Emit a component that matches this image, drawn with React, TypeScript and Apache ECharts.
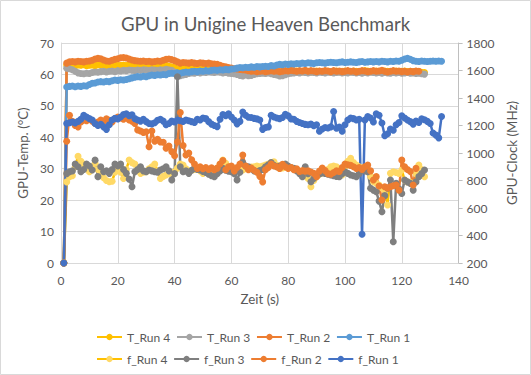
import React, { useEffect, useRef } from "react";
import * as echarts from "echarts";

// Time axis: every series starts at second 1 and has one value per second.
const startSecond = 1;

const xTicks = { min: 0, max: 140, interval: 20 };
const tempTicks = { min: 0, max: 70, interval: 10 };
const clockTicks = { min: 200, max: 1800, interval: 200 };

// GPU temperature (°C)
const tRun1 = [
  0, 56.0, 56.2, 56.3, 56.1, 56.3, 56.2, 56.4, 56.3, 56.8,
  57.2, 57.3, 57.6, 57.7, 57.6, 57.8, 57.7, 58.0, 58.2, 58.1,
  58.3, 58.2, 58.4, 58.6, 58.9, 59.1, 59.3, 59.2, 59.4, 59.3,
  59.6, 59.8, 59.7, 59.9, 59.8, 60.0, 59.9, 60.3, 60.4, 60.3,
  60.5, 60.4, 60.6, 60.8, 60.7, 60.9, 61.0, 60.9, 61.1, 61.0,
  61.2, 61.1, 61.3, 61.4, 61.3, 61.5, 61.4, 61.6, 61.5, 61.7,
  61.8, 62.0, 62.2, 62.1, 62.3, 62.2, 62.4, 62.3, 62.5, 62.4,
  62.5, 62.6, 62.5, 62.8, 62.7, 63.0, 63.2, 63.1, 63.3, 63.2,
  63.4, 63.3, 63.5, 63.4, 63.6, 63.5, 63.7, 63.6, 63.5, 63.7,
  63.8, 63.7, 63.6, 63.8, 63.9, 63.8, 63.7, 63.9, 64.0, 63.8,
  63.9, 64.0, 63.9, 63.8, 64.0, 64.1, 63.9, 64.0, 64.1, 64.0,
  64.1, 64.0, 64.2, 64.1, 64.0, 64.2, 64.1, 64.3, 64.2, 64.5,
  64.9, 65.1, 64.8, 64.4, 64.2, 64.1, 64.3, 64.2, 64.1, 64.2,
  64.3, 64.2, 64.3, 64.2,
];
const tRun2 = [
  0, 63.6, 64.0, 64.1, 64.0, 64.2, 64.1, 64.0, 64.2, 64.3,
  64.5, 64.9, 65.1, 65.0, 64.6, 64.3, 64.2, 64.5, 64.8, 65.0,
  65.3, 65.4, 65.2, 64.9, 64.6, 64.4, 64.3, 64.2, 64.3, 64.1,
  64.2, 64.0, 64.1, 64.3, 64.2, 64.5, 64.8, 64.9, 64.7, 64.4,
  64.0, 63.6, 63.8, 63.7, 63.6, 63.8, 63.6, 63.5, 63.7, 63.6,
  63.5, 63.6, 63.4, 63.3, 63.2, 62.9, 62.6, 62.4, 62.2, 62.0,
  61.8, 61.7, 61.6, 61.5, 61.4, 61.2, 61.0, 61.1, 60.9, 61.0,
  61.1, 60.9, 61.0, 61.2, 61.0, 61.1, 60.9, 61.0, 61.2, 61.1,
  61.3, 61.2, 61.0, 61.2, 61.1, 61.3, 61.0, 61.2, 61.1, 60.9,
  61.1, 61.0, 61.2, 61.1, 60.9, 61.2, 61.0, 61.1, 60.9, 61.0,
  61.2, 61.0, 61.1, 60.8, 61.0, 61.2, 61.1, 60.9, 61.0, 61.2,
  61.0, 61.1, 61.3, 61.0, 60.8, 61.0, 61.2, 61.0, 61.1, 60.9,
  61.0, 60.8, 61.0, 60.9, 61.1, 61.0,
];
const tRun3 = [
  0, 62.0, 61.8, 61.5, 61.0, 60.5, 60.3, 60.2, 60.4, 60.3,
  60.6, 60.8, 60.7, 60.9, 61.0, 60.8, 61.0, 61.1, 60.9, 61.2,
  61.1, 61.3, 61.2, 61.4, 61.3, 61.2, 61.4, 61.3, 61.5, 61.4,
  61.3, 61.5, 61.4, 61.3, 61.5, 61.4, 61.6, 61.5, 61.3, 60.8,
  60.2, 59.6, 59.8, 60.0, 60.3, 60.5, 60.4, 60.6, 60.5, 60.7,
  60.6, 60.8, 60.7, 60.6, 60.8, 60.7, 60.5, 60.6, 60.4, 60.3,
  60.2, 60.0, 59.7, 59.5, 59.8, 59.6, 59.7, 60.0, 60.2, 60.3,
  60.4, 60.3, 60.5, 60.2, 60.0, 59.8, 59.5, 59.6, 59.9, 60.2,
  60.4, 60.5, 60.6, 60.5, 60.7, 60.6, 60.5, 60.7, 60.6, 60.5,
  60.7, 60.6, 60.5, 60.7, 60.6, 60.5, 60.6, 60.7, 60.5, 60.6,
  60.5, 60.7, 60.6, 60.5, 60.6, 60.4, 60.6, 60.5, 60.7, 60.6,
  60.5, 60.6, 60.4, 60.6, 60.5, 60.4, 60.6, 60.5, 60.6, 60.4,
  60.5, 60.6, 60.4, 60.5, 60.3, 60.4, 60.2, 60.1,
];
const tRun4 = [
  0, 63.0, 63.2, 63.0, 62.8, 63.0, 62.9, 63.1, 62.8, 62.9,
  63.0, 62.8, 63.1, 62.9, 63.0, 62.8, 62.9, 63.1, 63.0, 62.8,
  62.9, 63.0, 62.8, 63.1, 62.9, 62.7, 62.8, 63.0, 62.9, 62.8,
  62.7, 62.9, 62.8, 62.6, 62.8, 62.7, 62.9, 62.6, 62.4, 62.2,
  61.8, 61.6, 61.7, 61.9, 61.8, 62.0, 61.9, 61.8, 62.0, 61.9,
  61.8, 61.7, 61.9, 61.8, 61.6, 61.7, 61.5, 61.6, 61.4, 61.5,
  61.3, 61.2, 60.8, 60.5, 60.7, 60.9, 61.0, 60.8, 61.0, 61.1,
  61.0, 60.9, 61.1, 61.0, 60.8, 60.6, 60.7, 60.9, 61.0, 61.1,
  61.0, 60.9, 61.1, 61.0, 60.9, 61.1, 61.0, 60.8, 61.0, 61.1,
  61.0, 60.9, 61.1, 61.0, 60.8, 61.0, 61.1, 60.9, 61.0, 61.1,
  61.0, 60.9, 61.1, 61.0, 60.8, 61.0, 61.2, 61.1, 60.9, 61.0,
  61.1, 61.0, 60.9, 61.1, 61.0, 60.8, 61.0, 61.1, 60.9, 61.0,
  61.1, 60.9, 61.0, 60.8, 61.0, 60.9, 60.7, 60.6,
];

// GPU clock (MHz)
const fRun1 = [
  200, 1215, 1220, 1225, 1218, 1230, 1245, 1275, 1262, 1250,
  1240, 1215, 1200, 1208, 1190, 1172, 1205, 1240, 1252, 1248,
  1262, 1280, 1285, 1272, 1278, 1250, 1240, 1232, 1245, 1228,
  1215, 1212, 1220, 1238, 1245, 1232, 1205, 1215, 1232, 1225,
  1240, 1235, 1230, 1240, 1235, 1228, 1222, 1245, 1240, 1255,
  1250, 1228, 1210, 1200, 1192, 1245, 1280, 1272, 1285, 1262,
  1240, 1212, 1230, 1298, 1275, 1260, 1258, 1252, 1248, 1240,
  1172, 1185, 1190, 1275, 1262, 1255, 1250, 1258, 1282, 1270,
  1248, 1245, 1230, 1222, 1215, 1208, 1205, 1210, 1198, 1205,
  1158, 1175, 1185, 1182, 1190, 1302, 1180, 1188, 1158, 1205,
  1240, 1255, 1250, 1240, 1245, 409, 1240, 1265, 1255, 1225,
  1285, 1275, 1218, 1125, 1140, 1175, 1165, 1205, 1222, 1270,
  1255, 1240, 1228, 1210, 1232, 1222, 1248, 1242, 1230, 1215,
  1145, 1130, 1110, 1265,
];
const fRun2 = [
  200, 1085, 1275, 1230, 1200, 1190, 1225, 1240, 1235, 1245,
  1232, 1215, 1225, 1240, 1230, 1248, 1238, 1225, 1250, 1262,
  1255, 1245, 1258, 1240, 1232, 1215, 1168, 1160, 1150, 1155,
  1045, 1160, 1085, 1100, 1080, 1078, 1034, 1050, 1010, 980,
  1080, 1295, 1055, 985, 1000, 950, 920, 888, 900, 885,
  895, 880, 892, 878, 890, 920, 946, 878, 900, 905,
  870, 895, 920, 985, 905, 878, 890, 875, 860, 830,
  790, 878, 895, 920, 905, 900, 888, 918, 900, 888,
  895, 878, 885, 866, 872, 868, 870, 862, 852, 828,
  868, 890, 872, 850, 845, 858, 870, 866, 895, 920,
  915, 910, 900, 888, 895, 880, 900, 912, 870, 803,
  828, 760, 658, 755, 745, 755, 762, 767, 730, 948,
  900, 880, 866, 767, 888,
];
const fRun3 = [
  200, 850, 864, 870, 919, 900, 864, 880, 919, 905,
  876, 948, 828, 900, 864, 870, 852, 880, 919, 905,
  919, 880, 852, 810, 755, 864, 880, 900, 870, 864,
  876, 870, 864, 860, 876, 885, 900, 870, 803, 850,
  1555, 900, 864, 870, 852, 875, 888, 880, 876, 865,
  858, 845, 835, 828, 850, 870, 888, 875, 868, 864,
  850, 803, 860, 931, 905, 900, 885, 870, 864, 872,
  880, 900, 915, 931, 910, 900, 905, 912, 919, 905,
  895, 888, 870, 850, 828, 900, 850, 791, 815, 840,
  848, 855, 852, 846, 840, 835, 830, 828, 850, 864,
  852, 840, 835, 828, 850, 876, 870, 864, 743, 730,
  718, 650, 573, 690, 743, 803, 355, 779, 740, 706,
  803, 790, 779, 730, 790, 828, 850, 876,
];
const fRun4 = [
  200, 790, 828, 835, 900, 976, 940, 919, 885, 864,
  895, 925, 880, 840, 820, 800, 791, 795, 860, 900,
  860, 815, 880, 949, 930, 919, 880, 852, 860, 864,
  885, 900, 919, 870, 815, 830, 840, 850, 860, 864,
  890, 919, 912, 885, 864, 875, 880, 888, 870, 852,
  858, 862, 860, 864, 890, 920, 949, 925, 900, 890,
  888, 880, 878, 876, 885, 892, 898, 900, 905, 900,
  905, 912, 920, 930, 937, 910, 888, 892, 896, 900,
  895, 885, 875, 864, 850, 835, 815, 755, 800, 828,
  845, 855, 864, 880, 900, 905, 900, 870, 840, 900,
  940, 961, 930, 912, 900, 890, 882, 876, 830, 791,
  780, 767, 745, 730, 622, 852, 864, 858, 852, 876,
  803, 790, 785, 779, 850, 912, 880, 828,
];

const seriesNames = ["T_Run 4", "T_Run 3", "T_Run 2", "T_Run 1", "f_Run 4", "f_Run 3", "f_Run 2", "f_Run 1"];

const FONT = "Lato, 'Open Sans', sans-serif";
const TEXT = "#595959";
const GRID = "#D9D9D9";

function toPoints(values: number[]) {
  return values.map((v, i) => [startSecond + i, v]);
}

export default function App() {
  const ref = useRef<HTMLDivElement>(null);
  useEffect(() => {
    const chart = echarts.init(ref.current!, null, { renderer: "svg" });
    const mk = (name: string, values: number[], yAxisIndex: number, line: string, marker: string) => ({
      name,
      type: "line",
      yAxisIndex,
      data: toPoints(values),
      symbol: "circle",
      symbolSize: 7,
      showSymbol: true,
      showAllSymbol: true,
      lineStyle: { color: line, width: 2.5 },
      itemStyle: { color: marker, borderColor: marker, borderWidth: 0 },
      emphasis: { disabled: true },
    });
    const legendCommon = {
      orient: "horizontal",
      left: 96,
      padding: 0,
      itemWidth: 25,
      itemHeight: 8,
      itemGap: 5.7,
      textStyle: { color: TEXT, fontFamily: FONT, fontSize: 12, width: 46, overflow: "none" },
      selectedMode: false,
    };
    chart.setOption({
      animation: false,
      backgroundColor: "#ffffff",
      title: {
        text: "GPU in Unigine Heaven Benchmark",
        left: "center",
        top: 9,
        textStyle: { color: TEXT, fontFamily: FONT, fontSize: 18.6, fontWeight: "normal" },
      },
      legend: [
        { ...legendCommon, top: 331, data: seriesNames.slice(0, 4) },
        { ...legendCommon, top: 353, data: seriesNames.slice(4) },
      ],
      grid: { left: 61, right: 72.4, top: 43, bottom: 112, containLabel: false },
      xAxis: {
        type: "value",
        ...xTicks,
        name: "Zeit (s)",
        nameLocation: "middle",
        nameGap: 29,
        nameTextStyle: { color: TEXT, fontFamily: FONT, fontSize: 13.3 },
        axisLine: { show: true, lineStyle: { color: GRID } },
        axisTick: { show: false },
        axisLabel: { color: TEXT, fontFamily: FONT, fontSize: 12, margin: 11 },
        splitLine: { show: true, lineStyle: { color: GRID } },
      },
      yAxis: [
        {
          type: "value",
          ...tempTicks,
          name: "GPU-Temp. (°C)",
          nameLocation: "middle",
          nameGap: 31,
          nameTextStyle: { color: TEXT, fontFamily: FONT, fontSize: 13.3 },
          axisLine: { show: true, lineStyle: { color: GRID } },
          axisTick: { show: false },
          axisLabel: { color: TEXT, fontFamily: FONT, fontSize: 12, margin: 7 },
          splitLine: { show: true, lineStyle: { color: GRID } },
        },
        {
          type: "value",
          position: "right",
          ...clockTicks,
          name: "GPU-Clock (MHz)",
          nameLocation: "middle",
          nameGap: 37,
          nameTextStyle: { color: TEXT, fontFamily: FONT, fontSize: 13.3 },
          axisLine: { show: true, lineStyle: { color: "#BFBFBF" } },
          axisTick: { show: true, length: 4, inside: false, lineStyle: { color: "#BFBFBF" } },
          axisLabel: { color: TEXT, fontFamily: FONT, fontSize: 12, margin: 8, formatter: (v: number) => String(v) },
          splitLine: { show: false },
        },
      ],
      graphic: [
        {
          type: "rect",
          shape: { x: 0.5, y: 0.5, width: 530, height: 374 },
          style: { fill: "none", stroke: GRID, lineWidth: 1 },
          silent: true,
        },
      ],
      series: [
        mk("T_Run 4", tRun4, 0, "#FFC000", "#FFC000"),
        mk("T_Run 3", tRun3, 0, "#A5A5A5", "#A5A5A5"),
        mk("T_Run 2", tRun2, 0, "#ED7D31", "#ED7D31"),
        mk("T_Run 1", tRun1, 0, "#5B9BD5", "#5B9BD5"),
        mk("f_Run 4", fRun4, 1, "#FFC000", "#FFD966"),
        mk("f_Run 3", fRun3, 1, "#7F7F7F", "#7F7F7F"),
        mk("f_Run 2", fRun2, 1, "#ED7D31", "#ED7D31"),
        mk("f_Run 1", fRun1, 1, "#4472C4", "#4472C4"),
      ],
    });
    return () => chart.dispose();
  }, []);
  return (
    <div
      ref={ref}
      style={{ position: "fixed", left: 0, top: 0, width: 531, height: 375, background: "#fff" }}
    />
  );
}
